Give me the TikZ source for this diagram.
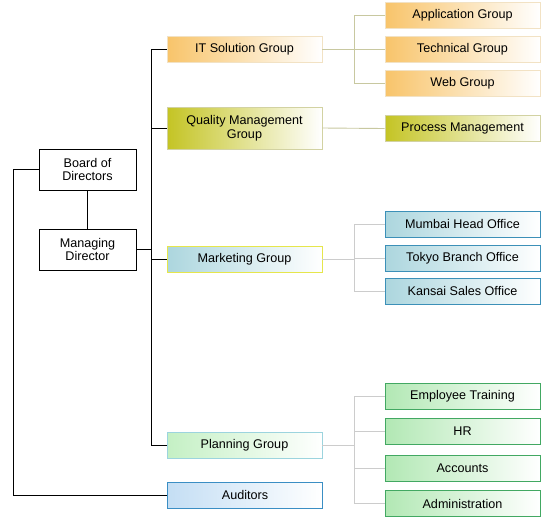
\documentclass[tikz,border=0pt]{standalone}
\usepackage{fontspec}
\setmainfont{Liberation Sans}
\usepackage{xcolor}
\usetikzlibrary{calc}

% colours
\definecolor{orangeL}{HTML}{F8C46A}
\definecolor{orangeB}{HTML}{F2E2C4}
\definecolor{oliveL}{HTML}{C4C424}
\definecolor{oliveB}{HTML}{D2D2A2}
\definecolor{oliveLine}{HTML}{C8C8A0}
\definecolor{tealL}{HTML}{ACD6DE}
\definecolor{tealB}{HTML}{3C90B8}
\definecolor{yellowB}{HTML}{E6E64C}
\definecolor{mintL}{HTML}{C4F0C4}
\definecolor{mintB}{HTML}{9CD4DE}
\definecolor{greenL}{HTML}{B2E8B4}
\definecolor{greenB}{HTML}{42A862}
\definecolor{skyL}{HTML}{C4DEF4}
\definecolor{skyB}{HTML}{3A8EC4}
\definecolor{grayLine}{HTML}{CCCCCC}

\tikzset{
  txt/.style={font=\fontsize{12.6}{13.6}\selectfont, align=center, inner sep=1pt},
  box/.style={rectangle, draw, txt, minimum height=26pt, right color=white},
  topbox/.style={rectangle, draw=black, fill=white, txt, minimum width=97pt, minimum height=41pt},
  midbox/.style={box, minimum width=155pt},
  leafbox/.style={box, minimum width=155pt},
  itbox/.style={left color=orangeL, draw=orangeB},
  qmbox/.style={left color=oliveL, draw=oliveB},
  mktbox/.style={left color=tealL, draw=yellowB},
  offbox/.style={left color=tealL, draw=tealB},
  planbox/.style={left color=mintL, draw=mintB},
  hrbox/.style={left color=greenL, draw=greenB},
  audbox/.style={left color=skyL, draw=skyB},
}

\begin{document}
\begin{tikzpicture}[x=1pt,y=-1pt,line width=0.9pt]
    \useasboundingbox (0,0) rectangle (556,520);

    % top of the tree
    \node[topbox] (bod) at (87.5,169.5) {Board of\\Directors};
    \node[topbox] (md) at (87.5,249.5) {Managing\\Director};

    % second level
    \node[midbox,itbox] (it) at (244.5,49) {IT Solution Group};
    \node[midbox,qmbox,minimum height=42pt] (qm) at (244.5,128) {Quality Management\\Group};
    \node[midbox,mktbox] (mkt) at (244.5,259) {Marketing Group};
    \node[midbox,planbox] (plan) at (244.5,445) {Planning Group};
    \node[midbox,audbox] (aud) at (245,495) {Auditors};

    % third level
    \node[leafbox,itbox] (app) at (462.5,15.5) {Application Group};
    \node[leafbox,itbox] (tech) at (462.5,49) {Technical Group};
    \node[leafbox,itbox] (web) at (462.5,83.5) {Web Group};
    \node[leafbox,qmbox] (proc) at (462.5,128.5) {Process Management};
    \node[leafbox,offbox] (mumbai) at (462.5,224) {Mumbai Head Office};
    \node[leafbox,offbox] (tokyo) at (462.5,258) {Tokyo Branch Office};
    \node[leafbox,offbox] (kansai) at (462.5,291) {Kansai Sales Office};
    \node[leafbox,hrbox] (train) at (462.5,396) {Employee Training};
    \node[leafbox,hrbox] (hr) at (462.5,431.5) {HR};
    \node[leafbox,hrbox] (acc) at (462.5,468) {Accounts};
    \node[leafbox,hrbox] (admin) at (462.5,503.5) {Administration};

    % rails
    \coordinate (trunk) at (151,0);
    \coordinate (rail) at (13,0);
    \coordinate (fork) at (354,0);

    % main tree
    \draw (bod) -- (md);
    \draw (md.east) -- (md.east -| trunk);
    \draw (it.west) -- (it.west -| trunk) |- (plan.west);
    \draw (qm.west) -- (qm.west -| trunk);
    \draw (mkt.west) -- (mkt.west -| trunk);
    \draw (bod.west) -- (bod.west -| rail) |- (aud.west);

    % branches
    \draw[oliveLine] (it.east) -- (tech.west);
    \draw[oliveLine] (app.west) -- (app.west -| fork) |- (web.west);
    \draw[oliveLine] (qm.east) -- (proc.west);
    \draw[grayLine] (mkt.east) -- (mkt.east -| fork);
    \draw[grayLine] (mumbai.west) -- (mumbai.west -| fork) |- (kansai.west);
    \draw[grayLine] (tokyo.west) -- (tokyo.west -| fork);
    \draw[grayLine] (plan.east) -- (plan.east -| fork);
    \draw[grayLine] (train.west) -- (train.west -| fork) |- (admin.west);
    \draw[grayLine] (hr.west) -- (hr.west -| fork);
    \draw[grayLine] (acc.west) -- (acc.west -| fork);

\end{tikzpicture}
\end{document}
